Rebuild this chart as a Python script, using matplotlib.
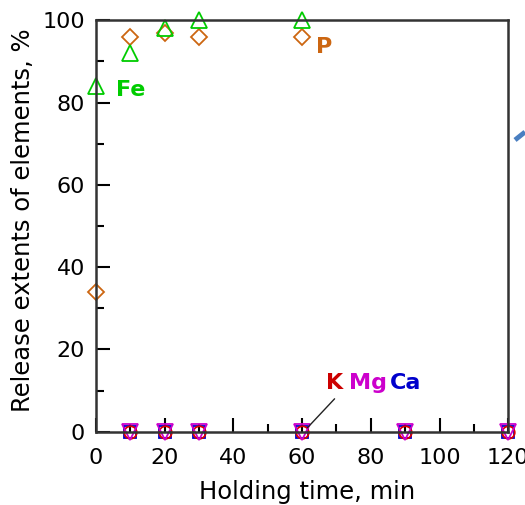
import numpy as np
import matplotlib.pyplot as plt
from matplotlib.ticker import MultipleLocator
from matplotlib.lines import Line2D

# Datos
t_fe = [0, 10, 20, 30, 60]
fe = [84, 92, 98, 100, 100]
t_p = [0, 10, 20, 30, 60]
p = [34, 96, 97, 96, 96]
t_alk = [10, 20, 30, 60, 90, 120]
ca = [0, 0, 0, 0, 0, 0]
k = [0, 0, 0, 0, 0, 0]
mg = [0, 0, 0, 0, 0, 0]

fig = plt.figure(figsize=(5.25, 5.05), dpi=100)
ax = fig.add_axes([0.183, 0.145, 0.785, 0.815])

ax.plot(t_alk, ca, 's', ms=9, mfc='none', mec='#0000cc', mew=1.3, clip_on=False)
ax.plot(t_alk, k, 'o', ms=9, mfc='none', mec='#dd0000', mew=1.3, clip_on=False)
ax.plot(t_alk, mg, 'v', ms=11, mfc='none', mec='#cc00cc', mew=1.3, clip_on=False)
ax.plot(t_p, p, 'D', ms=8.5, mfc='none', mec='#cc6611', mew=1.3, clip_on=False)
ax.plot(t_fe, fe, '^', ms=12, mfc='none', mec='#00cc00', mew=1.3, clip_on=False)

ax.set_xlim(0, 120)
ax.set_ylim(0, 100)
ax.xaxis.set_major_locator(MultipleLocator(20))
ax.xaxis.set_minor_locator(MultipleLocator(10))
ax.yaxis.set_major_locator(MultipleLocator(20))
ax.yaxis.set_minor_locator(MultipleLocator(10))
ax.tick_params(which='both', direction='in', width=1.5, labelsize=16)
ax.tick_params(axis='x', pad=12)
ax.tick_params(axis='y', pad=8)
ax.tick_params(which='major', length=10)
ax.tick_params(which='minor', length=6)
for s in ax.spines.values():
    s.set_linewidth(1.8)
    s.set_color('#333333')

ax.set_xlabel('Holding time, min', fontsize=17.5)
ax.set_ylabel('Release extents of elements, %', fontsize=17.5)
ax.xaxis.set_label_coords(0.511, -0.118)
ax.yaxis.set_label_coords(-0.148, 0.515)

# Etiquetas de elementos
ax.text(5.8, 83, 'Fe', color='#00cc00', fontsize=16, fontweight='bold', va='center')
ax.text(64, 93.5, 'P', color='#cc6611', fontsize=16, fontweight='bold', va='center')
ax.text(67, 11.8, 'K', color='#cc0000', fontsize=16, fontweight='bold', va='center')
ax.text(73.5, 11.8, 'Mg', color='#cc00cc', fontsize=16, fontweight='bold', va='center')
ax.text(85.5, 11.8, 'Ca', color='#0000cc', fontsize=16, fontweight='bold', va='center')
ax.annotate('', xy=(61, 0.5), xytext=(70, 8.5),
            arrowprops=dict(arrowstyle='-', color='#222222', lw=1))

# trozo de flecha azul que asoma a la derecha
fig.add_artist(Line2D([0.981, 1.0], [0.7228, 0.7386], color='#4a7fc1', lw=3.5,
                      solid_capstyle='butt', transform=fig.transFigure))

fig.savefig('out.png', dpi=100)
